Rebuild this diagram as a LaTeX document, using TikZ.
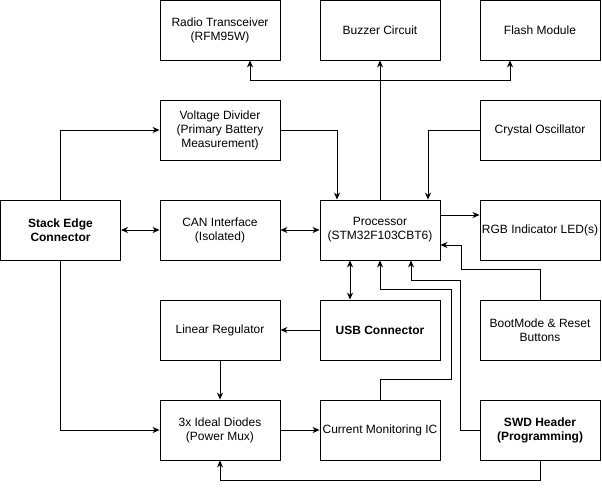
\documentclass[tikz,border=0pt]{standalone}
\usepackage{fontspec}
\setmainfont{Liberation Sans}
\usetikzlibrary{arrows.meta}

\begin{document}
\begin{tikzpicture}[x=1pt, y=-1pt, line width=0.9pt,
  blk/.style={draw, fill=white, minimum width=120pt, minimum height=60pt, align=center, inner sep=1pt, font=\fontsize{12}{14}\selectfont},
  bblk/.style={blk, font=\fontsize{12}{14}\selectfont\bfseries},
  conn/.style={-{Stealth[length=7pt,width=6pt]}},
  both/.style={{Stealth[length=7pt,width=6pt]}-{Stealth[length=7pt,width=6pt]}}]

\useasboundingbox (0,0) rectangle (602,489);

% top row
\node[blk] (radio) at (220,30) {Radio Transceiver\\(RFM95W)};
\node[blk] (buzzer) at (380,30) {Buzzer Circuit};
\node[blk] (flash) at (540,30) {Flash Module};

\node[blk] (vdiv) at (220,130) {Voltage Divider\\(Primary Battery\\Measurement)};
\node[blk] (xtal) at (540,130) {Crystal Oscillator};

% middle row
\node[bblk] (stack) at (60.5,230) {Stack Edge\\Connector};
\node[blk] (can) at (220,230) {CAN Interface\\(Isolated)};
\node[blk] (proc) at (380,230) {Processor\\(STM32F103CBT6)};
\node[blk] (rgb) at (540,230) {RGB Indicator LED(s)};

\node[blk] (linreg) at (220,330) {Linear Regulator};
\node[bblk] (usb) at (380,330) {USB Connector};
\node[blk] (boot) at (540,330) {BootMode \& Reset\\Buttons};

% bottom row
\node[blk] (diodes) at (220,430) {3x Ideal Diodes\\(Power Mux)};
\node[blk] (curmon) at (380,430) {Current Monitoring IC};
\node[bblk] (swd) at (540,430) {SWD Header\\(Programming)};

% processor bus
\coordinate (bus) at (380,80);
\draw[conn] (proc.north) -- (buzzer.south);
\draw[conn] (bus) -| ([xshift=30pt]radio.south);
\draw[conn] (bus) -| ([xshift=-30pt]flash.south);

\draw[conn] (vdiv.east) -| ([xshift=-43pt]proc.north);
\draw[conn] (xtal.west) -| ([xshift=48pt]proc.north);
\draw[conn] (stack.north) |- (vdiv.west);
\draw[conn] (stack.south) |- (diodes.west);
\draw[both] (stack) -- (can);
\draw[both] (can) -- (proc);
\draw[conn] ([yshift=15pt]proc.east) -- ([yshift=15pt]rgb.west);
\draw[conn] (boot.north) -- ++(0,-30) -- ++(-79,0) |- ([yshift=-15pt]proc.east);

\draw[both] ([xshift=-30pt]proc.south) -- ([xshift=-30pt]usb.north);
\draw[conn] (usb) -- (linreg);
\draw[conn] (linreg) -- (diodes);
\draw[conn] (diodes) -- (curmon);
\draw[conn] (curmon.north) -- ++(0,-20) -- ++(71,0) -- ++(0,-90) -| (proc.south);
\draw[conn] (swd.west) -- ++(-19,0) -- ++(0,-150) -| ([xshift=31pt]proc.south);
\draw[conn] (swd.south) -- ++(0,20) -| (diodes.south);

\end{tikzpicture}
\end{document}
